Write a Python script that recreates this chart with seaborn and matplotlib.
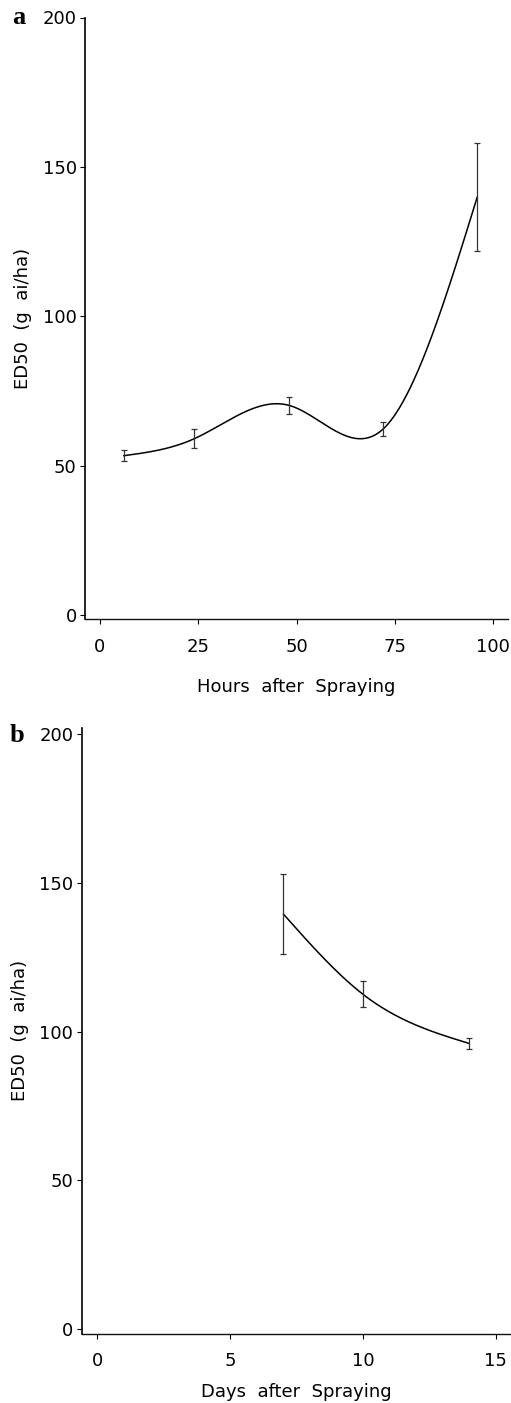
import numpy as np
import pandas as pd
import matplotlib
matplotlib.use("Agg")
import matplotlib.pyplot as plt
import seaborn as sns

# Panel a: ED50 against hours after spraying
hours = [6, 24, 48, 72, 96]
ed50_hours = [53.3, 59.0, 70.2, 62.2, 140.0]
err_hours = [1.9, 3.1, 2.85, 2.25, 18.0]

# Panel b: ED50 against days after spraying
days = [7, 10, 14]
ed50_days = [139.5, 112.5, 96.0]
err_days = [13.5, 4.4, 1.9]

hour_ticks = [0, 25, 50, 75, 100]
day_ticks = [0, 5, 10, 15]
ed50_ticks = [0, 50, 100, 150, 200]


def natural_spline(x, y, n=400):
    """Natural cubic spline through (x, y), sampled on n points."""
    x = np.asarray(x, float)
    y = np.asarray(y, float)
    k = len(x)
    h = np.diff(x)
    A = np.zeros((k, k))
    r = np.zeros(k)
    A[0, 0] = A[-1, -1] = 1.0
    for i in range(1, k - 1):
        A[i, i - 1] = h[i - 1]
        A[i, i] = 2 * (h[i - 1] + h[i])
        A[i, i + 1] = h[i]
        r[i] = 6 * ((y[i + 1] - y[i]) / h[i] - (y[i] - y[i - 1]) / h[i - 1])
    m = np.linalg.solve(A, r)
    xs = np.linspace(x[0], x[-1], n)
    idx = np.clip(np.searchsorted(x, xs) - 1, 0, k - 2)
    x0, x1 = x[idx], x[idx + 1]
    hh = x1 - x0
    a = (x1 - xs) / hh
    b = (xs - x0) / hh
    ys = (a * y[idx] + b * y[idx + 1]
          + ((a ** 3 - a) * m[idx] + (b ** 3 - b) * m[idx + 1]) * hh ** 2 / 6)
    return xs, ys


sns.set_style("ticks")
plt.rcParams["font.family"] = ["DejaVu Sans"]
plt.rcParams["font.size"] = 13
plt.rcParams["text.color"] = "black"
plt.rcParams["axes.labelcolor"] = "black"
plt.rcParams["xtick.color"] = "black"
plt.rcParams["ytick.color"] = "black"
plt.rcParams["axes.linewidth"] = 1.0
plt.rcParams["xtick.major.size"] = 3.5
plt.rcParams["ytick.major.size"] = 3.5
plt.rcParams["xtick.major.width"] = 0.8
plt.rcParams["ytick.major.width"] = 0.8

W, H = 511, 1403
fig = plt.figure(figsize=(W / 100, H / 100), dpi=100)


def px_axes(left, top, right, bottom):
    return fig.add_axes([left / W, 1 - bottom / H, (right - left) / W, (bottom - top) / H])


panels = [
    dict(box=(85, 17.5, 508, 619.3), x=hours, y=ed50_hours, e=err_hours,
         xlim=(-3.8, 103.8), ylim=(-1.45, 200.0), xticks=hour_ticks,
         xlabel="Hours  after  Spraying", tag="a", tag_xy=(18.5, 18),
         xlab_px=67.7, ylab_px=23),
    dict(box=(81.7, 728, 510, 1333.7), x=days, y=ed50_days, e=err_days,
         xlim=(-0.59, 15.53), ylim=(-1.5, 202.0), xticks=day_ticks,
         xlabel="Days  after  Spraying", tag="b", tag_xy=(16.5, 735),
         xlab_px=58.3, ylab_px=20),
]

for p in panels:
    left, top, right, bottom = p["box"]
    ax = px_axes(left, top, right, bottom)
    xs, ys = natural_spline(p["x"], p["y"])
    curve = pd.DataFrame({"t": xs, "ed50": ys})
    sns.lineplot(data=curve, x="t", y="ed50", ax=ax, color="black",
                 linewidth=1.1, estimator=None, sort=False)
    ax.errorbar(p["x"], p["y"], yerr=p["e"], fmt="none", ecolor="#333333",
                elinewidth=0.9, capsize=2.2, capthick=0.9)
    ax.set_xlim(*p["xlim"])
    ax.set_ylim(*p["ylim"])
    ax.set_xticks(p["xticks"])
    ax.set_yticks(ed50_ticks)
    ax.tick_params(axis="x", pad=10, labelsize=13, colors="black")
    ax.tick_params(axis="y", pad=2.5, labelsize=13, colors="black")
    for s in ("top", "right"):
        ax.spines[s].set_visible(False)
    ax.spines["left"].set_color("black")
    ax.spines["left"].set_linewidth(1.2)
    ax.spines["bottom"].set_color("#111111")
    ax_w = right - left
    ax_h = bottom - top
    ax.set_xlabel(p["xlabel"], fontsize=13, va="center", color="black")
    ax.xaxis.set_label_coords(0.5, -p["xlab_px"] / ax_h)
    ax.set_ylabel("ED50  (g  ai/ha)", fontsize=13, va="center", ha="center",
                  color="black")
    ax.yaxis.set_label_coords((p["ylab_px"] - left) / ax_w, 0.5)
    fig.text(p["tag_xy"][0] / W, 1 - p["tag_xy"][1] / H, p["tag"],
             fontsize=19, fontweight="bold", family="Liberation Serif",
             color="black", ha="center", va="center")

fig.savefig("out.png", dpi=100)
